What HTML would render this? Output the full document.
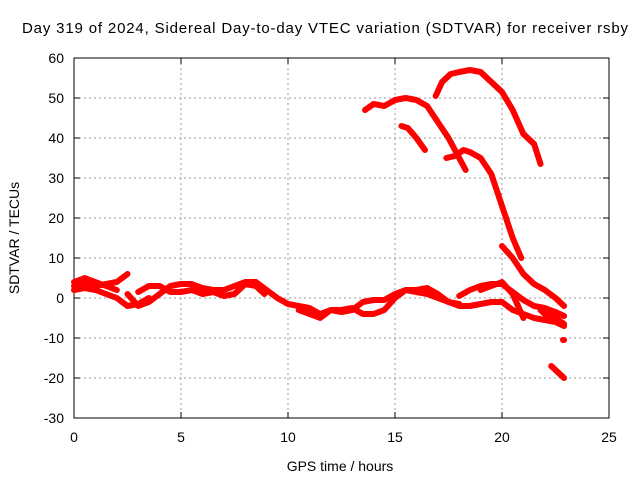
<!DOCTYPE html>
<html><head><meta charset="utf-8"><style>
body{margin:0;background:#fff}
svg text{font-family:"Liberation Sans",sans-serif;font-size:14px;fill:#000}
</style></head><body>
<svg id="c" width="640" height="480">
<g id="grid"></g>
<g id="axes"></g>
<g id="marks"></g>
<text x="22" y="33" textLength="606" lengthAdjust="spacing" style="font-size:15px">Day 319 of 2024, Sidereal Day-to-day VTEC variation (SDTVAR) for receiver rsby</text>
<text x="340" y="471" text-anchor="middle">GPS time / hours</text>
<text transform="translate(19,238) rotate(-90)" text-anchor="middle">SDTVAR / TECUs</text>
</svg>
<script>
const xTicks=[0,5,10,15,20,25];
const yTicks=[-30,-20,-10,0,10,20,30,40,50,60];
const trackA=[[0,3],[0.5,4],[1,3],[1.5,3.5],[2,4],[2.5,6]];
const trackB=[[0,2],[0.5,2.5],[1,2],[1.5,1],[2,0],[2.5,-2],[3,-1.5],[3.5,0]];
const trackC=[[2.5,1],[3,-2],[3.5,-1],[4,1],[4.5,3],[5,3.5],[5.5,3.5],[6,2.5],[6.5,2],[7,2],[7.5,3],[8,4],[8.5,4],[9,2],[9.5,0],[10,-1.5],[10.5,-2],[11,-2.5],[11.5,-4],[12,-3],[12.5,-3.5],[13,-3],[13.5,-1],[14,-0.5],[14.5,-0.5],[15,1],[15.5,2],[16,1.5],[16.5,1],[17,0],[17.5,-1],[18,-2],[18.5,-2],[19,-1.5],[19.5,-1],[20,-1],[20.5,-3],[21,-4],[21.5,-5],[22,-5.5],[22.5,-6],[22.9,-7]];
const trackD=[[0,4],[0.5,5],[1,4],[1.5,3],[2,2]];
const trackE=[[3,1.5],[3.5,3],[4,3],[4.5,1.5],[5,1.5],[5.5,2],[6,1],[6.5,1.5],[7,0.5],[7.5,1],[8,3.5],[8.5,3],[8.9,1]];
const trackF=[[10.5,-3],[11,-4],[11.5,-5],[12,-3],[12.5,-3],[13,-2.5],[13.5,-4],[14,-4],[14.5,-3],[15,0],[15.5,2],[16,2],[16.5,2.5],[17,1],[17.5,-1],[18,-1.5]];
const trackG=[[18,0.5],[18.5,2],[19,3],[19.5,3.5],[20,3.5],[20.5,1.5],[21,-0.5],[21.5,-2],[22,-2.5],[22.5,-3.5],[22.9,-4.5]];
const trackH=[[19,2],[19.5,3],[20,4],[20.5,1],[21,-5]];
const trackI=[[21.8,-3],[22,-4],[22.5,-5],[22.9,-6.5]];
const trackJ=[[22.85,-10.5],[22.9,-10.5]];
const trackK=[[22.3,-17],[22.6,-18.5],[22.9,-20]];
const trackU1=[[13.6,47],[14,48.5],[14.5,48],[15,49.5],[15.5,50],[16,49.5],[16.5,48],[17,44],[17.5,40],[18,35],[18.3,32]];
const trackU2=[[15.3,43],[15.6,42.5],[16,40],[16.4,37]];
const trackU3=[[16.9,50.5],[17.2,54],[17.6,56],[18,56.5],[18.5,57],[19,56.5],[19.5,54],[20,51.5],[20.5,47],[21,41],[21.5,38.5],[21.8,33.5]];
const trackU4=[[17.4,35],[17.8,35.5],[18.2,37],[18.5,36.5],[19,35],[19.5,31],[20,23],[20.5,15],[20.9,10]];
const trackU5=[[20,13],[20.5,10],[21,6],[21.5,3.5],[22,2],[22.5,0],[22.9,-2]];
const tracks=[trackA,trackB,trackC,trackD,trackE,trackF,trackG,trackH,trackI,trackJ,trackK,trackU1,trackU2,trackU3,trackU4,trackU5];

const L=74,R=609,T=58,B=418;
const xs=v=>L+(v-0)/25*(R-L);
const ys=v=>B-(v+30)/90*(B-T);
const NS="http://www.w3.org/2000/svg";
function mk(tag,attrs,parent){const e=document.createElementNS(NS,tag);for(const k in attrs)e.setAttribute(k,attrs[k]);parent.appendChild(e);return e;}
const grid=document.getElementById('grid'),axes=document.getElementById('axes'),marks=document.getElementById('marks');
xTicks.forEach(t=>{
  const x=xs(t);
  if(t>0&&t<25){const g=mk('line',{x1:x,x2:x,y1:T,y2:B,stroke:'#999','stroke-dasharray':'2,3'},grid);
  
  }
  mk('line',{x1:x,x2:x,y1:B,y2:B-6,stroke:'#000'},axes);
  mk('line',{x1:x,x2:x,y1:T,y2:T+6,stroke:'#000'},axes);
  const tx=mk('text',{x:x,y:B+24,'text-anchor':'middle'},axes);tx.textContent=t;
  
  
});
yTicks.forEach(t=>{
  const y=ys(t);
  if(t>-30&&t<60){const g=mk('line',{x1:L,x2:R,y1:y,y2:y,stroke:'#999','stroke-dasharray':'2,3'},grid);
  
  }
  mk('line',{x1:L,x2:L+6,y1:y,y2:y,stroke:'#000'},axes);
  mk('line',{x1:R,x2:R-6,y1:y,y2:y,stroke:'#000'},axes);
  const tx=mk('text',{x:L-10,y:y+5,'text-anchor':'end'},axes);tx.textContent=t;
  
  
});
mk('rect',{x:L,y:T,width:R-L,height:B-T,fill:'none',stroke:'#000'},axes);
tracks.forEach(tr=>{
  const p=mk('polyline',{points:tr.map(d=>xs(d[0])+','+ys(d[1])).join(' '),fill:'none',stroke:'#f00','stroke-width':6,'stroke-linejoin':'round','stroke-linecap':'round'},marks);
  
  
});
</script>
</body></html>
